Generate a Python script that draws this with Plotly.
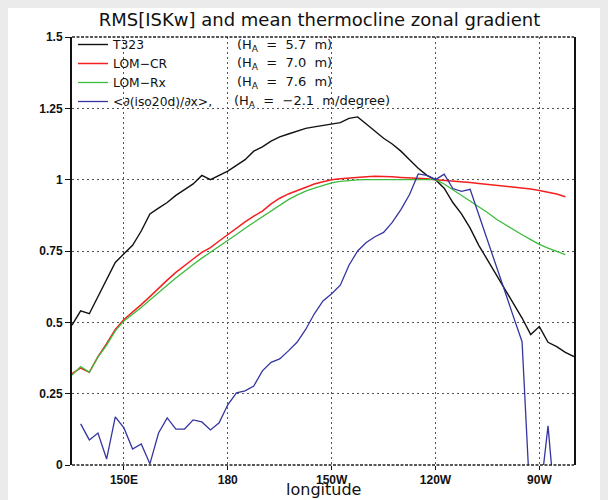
import plotly.graph_objects as go

# ---------------- data ----------------
lon_t323 = [135, 137.5, 140, 142.5, 145, 147.5, 150, 152.5, 155, 157.5,
            160, 162.5, 165, 167.5, 170, 172.5, 175, 177.5, 180, 182.5,
            185, 187.5, 190, 192.5, 195, 197.5, 200, 202.5, 205, 207.5,
            210, 212.5, 215, 217.5, 220, 222.5, 225, 227.5, 230, 232.5,
            235, 237.5, 240, 242.5, 245, 247.5, 250, 252.5, 255, 257.5,
            260, 262.5, 265, 267.5, 270, 272.5, 275, 277.5, 280]
t323 = [0.49, 0.54, 0.53, 0.59, 0.65, 0.71, 0.74, 0.77, 0.82, 0.88,
        0.90, 0.92, 0.945, 0.965, 0.985, 1.015, 1.00, 1.015, 1.03, 1.05,
        1.07, 1.10, 1.115, 1.135, 1.15, 1.16, 1.17, 1.18, 1.185, 1.19,
        1.195, 1.20, 1.215, 1.22, 1.195, 1.17, 1.145, 1.125, 1.10, 1.07,
        1.04, 1.015, 1.00, 0.97, 0.92, 0.88, 0.83, 0.77, 0.72, 0.67,
        0.62, 0.57, 0.515, 0.457, 0.485, 0.43, 0.415, 0.395, 0.38]

lon_lom = [135, 137.5, 140, 142.5, 145, 147.5, 150, 152.5, 155, 157.5,
           160, 162.5, 165, 167.5, 170, 172.5, 175, 177.5, 180, 182.5,
           185, 187.5, 190, 192.5, 195, 197.5, 200, 202.5, 205, 207.5,
           210, 212.5, 215, 217.5, 220, 222.5, 225, 227.5, 230, 232.5,
           235, 237.5, 240, 242.5, 245, 247.5, 250, 252.5, 255, 257.5,
           260, 262.5, 265, 267.5, 270, 272.5, 275, 277.5]
lom_cr = [0.32, 0.34, 0.325, 0.38, 0.425, 0.475, 0.51, 0.535, 0.562, 0.59,
          0.62, 0.648, 0.675, 0.70, 0.722, 0.745, 0.762, 0.785, 0.808, 0.832,
          0.852, 0.872, 0.89, 0.915, 0.935, 0.95, 0.962, 0.975, 0.985, 0.993,
          1.00, 1.003, 1.006, 1.008, 1.01, 1.012, 1.012, 1.01, 1.008, 1.007,
          1.005, 1.003, 1.00, 0.998, 0.995, 0.992, 0.99, 0.987, 0.984, 0.981,
          0.978, 0.975, 0.971, 0.967, 0.962, 0.957, 0.95, 0.94]
lom_rx = [0.315, 0.345, 0.325, 0.378, 0.42, 0.47, 0.505, 0.528, 0.552, 0.578,
          0.605, 0.63, 0.655, 0.68, 0.703, 0.725, 0.745, 0.765, 0.787, 0.808,
          0.83, 0.85, 0.872, 0.893, 0.912, 0.93, 0.946, 0.96, 0.97, 0.98,
          0.989, 0.994, 0.997, 0.999, 1.0, 1.0, 1.0, 1.001, 1.002, 1.002,
          1.001, 1.0, 1.0, 0.985, 0.965, 0.945, 0.925, 0.905, 0.885, 0.862,
          0.843, 0.825, 0.807, 0.79, 0.773, 0.76, 0.748, 0.737]

lon_grad = [137.5, 140, 142.5, 145, 147.5, 150, 152.5, 155, 157.5, 160,
            162.5, 165, 167.5, 170, 172.5, 175, 177.5, 180, 182.5, 185,
            187.5, 190, 192.5, 195, 197.5, 200, 202.5, 205, 207.5, 210,
            212.5, 215, 217.5, 220, 222.5, 225, 227.5, 230, 232.5, 235,
            237.5, 240, 242.5, 245, 247.5, 250, 252.5, 255, 257.5, 260,
            262.5, 265, 267.5, 270, 272.5, 275, 277.5]
grad_iso20 = [0.144, 0.088, 0.112, 0.021, 0.169, 0.130, 0.056, 0.074, 0.004, 0.112,
              0.165, 0.126, 0.126, 0.158, 0.151, 0.123, 0.148, 0.211, 0.253, 0.26,
              0.277, 0.33, 0.36, 0.372, 0.40, 0.43, 0.475, 0.53, 0.575, 0.60,
              0.63, 0.70, 0.75, 0.78, 0.80, 0.815, 0.85, 0.895, 0.948, 1.02,
              1.015, 1.00, 1.019, 0.969, 0.959, 0.966, 0.877, 0.79, 0.70, 0.61,
              0.52, 0.432, -0.17, -0.13, 0.137, -0.21, -0.3]

series_names = ["T323", "LOM\u2212CR", "LOM\u2212Rx", "&lt;\u2202(iso20d)/\u2202x&gt;,"]
series_ha = ["(H<sub>A</sub>\u00a0\u00a0=\u00a0\u00a05.7\u00a0\u00a0m)",
             "(H<sub>A</sub>\u00a0\u00a0=\u00a0\u00a07.0\u00a0\u00a0m)",
             "(H<sub>A</sub>\u00a0\u00a0=\u00a0\u00a07.6\u00a0\u00a0m)",
             "(H<sub>A</sub>\u00a0\u00a0=\u00a0\u00a0\u22122.1\u00a0\u00a0m/degree)"]
x_tickvals = [150, 180, 210, 240, 270]
x_ticktext = ["150E", "180", "150W", "120W", "90W"]
y_tickvals = [0, 0.25, 0.5, 0.75, 1, 1.25, 1.5]
y_ticktext = ["0", "0.25", "0.5", "0.75", "1", "1.25", "1.5"]
x_title = "longitude"
chart_title = "RMS[ISKw] and mean thermocline zonal gradient"

# ---------------- figure ----------------
fig = go.Figure()
fig.add_trace(go.Scatter(x=lon_t323, y=t323, mode="lines", name=series_names[0],
                         line=dict(color="#111111", width=1.4)))
fig.add_trace(go.Scatter(x=lon_lom, y=lom_cr, mode="lines", name=series_names[1],
                         line=dict(color="#f42020", width=1.5)))
fig.add_trace(go.Scatter(x=lon_lom, y=lom_rx, mode="lines", name=series_names[2],
                         line=dict(color="#3cbc3c", width=1.3)))
fig.add_trace(go.Scatter(x=lon_grad, y=grad_iso20, mode="lines", name=series_names[3],
                         line=dict(color="#3535a0", width=1.3)))

W, H = 608, 500
ML, MR, MT, MB = 72, 34, 37, 35
PW, PH = W - ML - MR, H - MT - MB

def px_x(p):
    return (p - ML) / PW

def px_y(p):
    return 1 - (p - MT) / PH

thin = "DejaVu Sans"
row_y = [45, 64, 83, 102]
annotations = []
for i, txt in enumerate(series_ha):
    annotations.append(dict(x=px_x(235 if i < 3 else 232), y=px_y(row_y[i]), xref="paper", yref="paper",
                            text=txt, showarrow=False, xanchor="left", yanchor="middle",
                            font=dict(family=thin, size=13, color="#111")))
# x-axis title
annotations.append(dict(x=0.5, y=px_y(500), xref="paper", yref="paper", text=x_title,
                        showarrow=False, xanchor="center", yanchor="bottom", borderpad=0,
                        font=dict(family=thin, size=16, color="#111")))

shapes = [
    # white panel on grey page
    dict(type="rect", xref="paper", yref="paper", x0=px_x(8), x1=px_x(600), y0=px_y(8), y1=px_y(H),
         fillcolor="white", line=dict(width=0), layer="below"),
    # dashed top and bottom frame
    dict(type="line", xref="paper", yref="paper", x0=0, x1=1, y0=1, y1=1,
         line=dict(color="#222", width=1.5, dash="3px,1.5px"), layer="above"),
    dict(type="line", xref="paper", yref="paper", x0=0, x1=1, y0=0, y1=0,
         line=dict(color="#222", width=1.5, dash="3px,1.5px"), layer="above"),
]

fig.update_layout(
    width=W, height=H,
    margin=dict(l=ML, r=MR, t=MT, b=MB, pad=0),
    paper_bgcolor="#ebebeb",
    plot_bgcolor="white",
    title=dict(text=chart_title,
               x=319.5 / W, xanchor="center", y=1 - 20 / H, yanchor="middle",
               font=dict(family=thin, size=18, color="#111")),
    showlegend=True,
    legend=dict(x=px_x(73), y=px_y(30), xanchor="left", yanchor="top",
                bgcolor="rgba(0,0,0,0)", borderwidth=0, tracegroupgap=0,
                font=dict(family=thin, size=12.3, color="#111")),
    annotations=annotations,
    shapes=shapes,
    xaxis=dict(range=[135, 280], tickmode="array", tickvals=x_tickvals, ticktext=x_ticktext,
               showgrid=True, gridcolor="#555", griddash="1.5px,3.5px", gridwidth=1,
               zeroline=False, showline=False, ticks="outside", ticklen=4, tickcolor="#111",
               automargin=False,
               tickfont=dict(family="Liberation Sans", size=12, color="#111", weight="bold")),
    yaxis=dict(range=[0, 1.5], tickmode="array", tickvals=y_tickvals, ticktext=y_ticktext,
               showgrid=True, gridcolor="#555", griddash="1.5px,3.5px", gridwidth=1,
               zeroline=False, showline=True, mirror=True, linecolor="#111", linewidth=2,
               ticks="outside", ticklen=5, tickcolor="#111", automargin=False,
               tickfont=dict(family="Liberation Sans", size=12, color="#111", weight="bold")),
)

fig.write_html("out.html", config={"displayModeBar": False},
               post_script="document.body.style.margin='0';")
